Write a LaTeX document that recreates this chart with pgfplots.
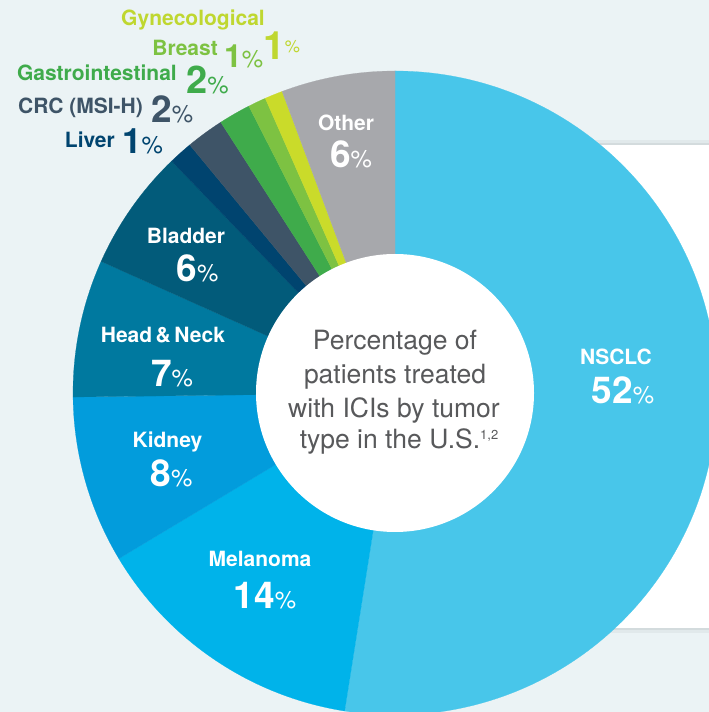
\documentclass[border=0pt]{standalone}
\usepackage{pgfplots}
\usepackage{pgfplotstable}
\pgfplotsset{compat=1.18}
\usepackage{fontspec}
\setmainfont{TeX Gyre Heros}

\definecolor{bg}{HTML}{EBF3F5}
\definecolor{cNSCLC}{HTML}{48C6EA}
\definecolor{cMel}{HTML}{00B3EA}
\definecolor{cKid}{HTML}{029CDC}
\definecolor{cHN}{HTML}{00799F}
\definecolor{cBla}{HTML}{025B7A}
\definecolor{cLiv}{HTML}{00446F}
\definecolor{cCRC}{HTML}{3E5467}
\definecolor{cGI}{HTML}{3FAB4B}
\definecolor{cBre}{HTML}{7DC242}
\definecolor{cGyn}{HTML}{CADB2A}
\definecolor{cOth}{HTML}{A7A8AC}
\definecolor{cGynT}{HTML}{BFD730}
\definecolor{ctxt}{HTML}{58595B}

% share of patients (drawn angle), label shown separately
\pgfplotstableread{
name share col
NSCLC 52.5 cNSCLC
Melanoma 13.9 cMel
Kidney 8.4 cKid
HeadNeck 6.9 cHN
Bladder 6.1 cBla
Liver 1.2 cLiv
CRC 1.9 cCRC
GI 1.6 cGI
Breast 0.9 cBre
Gyn 0.9 cGyn
Other 5.7 cOth
}\slices

\newcommand\lbl{\bfseries\fontsize{21}{21}\selectfont}
\newcommand\num[2][37]{{\fontsize{#1}{#1}\selectfont\bfseries #2}{\fontsize{24}{24}\selectfont\%}}

\begin{document}
\begin{tikzpicture}
\useasboundingbox (0pt,0pt) rectangle (709pt,712pt);
\fill[bg] (0pt,0pt) rectangle (709pt,712pt);
\begin{axis}[at={(0pt,0pt)}, anchor=origin, x=1pt, y=1pt,
  xmin=0, xmax=709, ymin=0, ymax=712, hide axis, clip=false]
  % white panel with soft shadow
  \fill[black, opacity=0.04] (axis cs:494,79) rectangle (axis cs:709,572);
  \fill[black, opacity=0.06] (axis cs:497,82) rectangle (axis cs:709,569);
  \fill[white] (axis cs:500,84) rectangle (axis cs:709,567);
  % donut slices
  \def\acc{90}
  \pgfplotsforeachungrouped \i in {0,...,10}{%
    \pgfplotstablegetelem{\i}{share}\of\slices
    \let\sv\pgfplotsretval
    \pgfplotstablegetelem{\i}{col}\of\slices
    \let\slicecol\pgfplotsretval
    \pgfmathsetmacro\aend{\acc-3.6*\sv}%
    \edef\cmd{\noexpand\fill[\slicecol, draw=\slicecol, line width=0.2pt] (axis cs:395,319) -- ++(\acc:322pt) arc[start angle=\acc, end angle=\aend, radius=322pt] -- cycle;}%
    \cmd
    \let\acc\aend
  }
  \fill[white] (axis cs:395,319) circle[radius=139pt];

  % centre text
  \node[anchor=base, text=ctxt, inner sep=0, font=\fontsize{26.5}{26.5}\selectfont] at (axis cs:395,362) {Percentage of};
  \node[anchor=base, text=ctxt, inner sep=0, font=\fontsize{26.5}{26.5}\selectfont] at (axis cs:395,328) {patients treated};
  \node[anchor=base, text=ctxt, inner sep=0, font=\fontsize{26.5}{26.5}\selectfont] at (axis cs:394,294) {with ICIs by tumor};
  \node[anchor=base, text=ctxt, inner sep=0, font=\fontsize{26.5}{26.5}\selectfont] at (axis cs:399,263) {type in the U.S.\raisebox{9pt}{\fontsize{13}{13}\selectfont 1,2}};

  % labels inside slices
  \node[anchor=base, text=white, inner sep=0, font=\lbl] at (axis cs:346,581) {Other};
  \node[anchor=base, text=white, inner sep=0] at (axis cs:351,544) {\num{6}};
  \node[anchor=base, text=white, inner sep=0, font=\lbl] at (axis cs:616,347) {NSCLC};
  \node[anchor=base, text=white, inner sep=0] at (axis cs:623,308) {\num{52}};
  \node[anchor=base, text=white, inner sep=0, font=\lbl] at (axis cs:260,145) {Melanoma};
  \node[anchor=base, text=white, inner sep=0] at (axis cs:265,103) {\num{14}};
  \node[anchor=base, text=white, inner sep=0, font=\lbl] at (axis cs:167.5,264) {Kidney};
  \node[anchor=base, text=white, inner sep=0] at (axis cs:171.5,225) {\num{8}};
  \node[anchor=base, text=white, inner sep=0, font=\lbl] at (axis cs:163,369) {Head\,\&\,Neck};
  \node[anchor=base, text=white, inner sep=0] at (axis cs:172,325) {\num{7}};
  \node[anchor=base, text=white, inner sep=0, font=\lbl] at (axis cs:186,468) {Bladder};
  \node[anchor=base, text=white, inner sep=0] at (axis cs:197.5,430) {\num{6}};

  % labels outside
  \node[anchor=base east, text=cGynT, inner sep=0, font=\lbl] at (axis cs:265,686) {Gynecological};
  \node[anchor=base west, text=cGynT, inner sep=0] at (axis cs:263,652) {{\fontsize{39}{39}\selectfont\bfseries 1}\raisebox{7pt}{\fontsize{17}{17}\selectfont\%}};
  \node[anchor=base east, text=cBre, inner sep=0, font=\lbl] at (axis cs:218,656) {Breast};
  \node[anchor=base west, text=cBre, inner sep=0] at (axis cs:224,644) {\num[32]{1}};
  \node[anchor=base east, text=cGI, inner sep=0, font=\lbl] at (axis cs:177,631) {Gastrointestinal};
  \node[anchor=base west, text=cGI, inner sep=0] at (axis cs:186,618) {\num[38]{2}};
  \node[anchor=base east, text=cCRC, inner sep=0, font=\lbl] at (axis cs:143,598) {CRC (MSI-H)};
  \node[anchor=base west, text=cCRC, inner sep=0] at (axis cs:151,589) {\num[37]{2}};
  \node[anchor=base east, text=cLiv, inner sep=0, font=\lbl] at (axis cs:115,564) {Liver};
  \node[anchor=base west, text=cLiv, inner sep=0] at (axis cs:122,558) {\num[35]{1}};
\end{axis}
\end{tikzpicture}
\end{document}
